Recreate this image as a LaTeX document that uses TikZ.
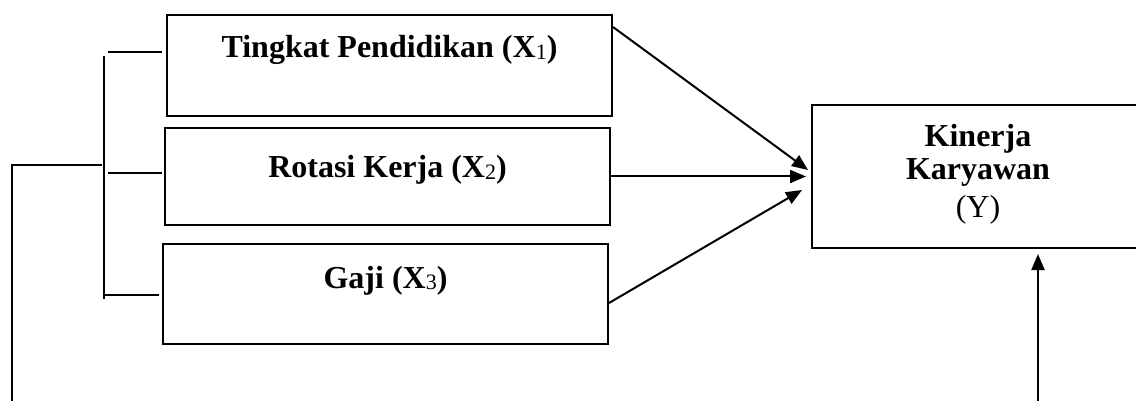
\documentclass[tikz,border=0pt]{standalone}
\usepackage{fontspec}
\setmainfont{Liberation Serif}
\usetikzlibrary{arrows.meta}
\newcommand{\subdig}[1]{\raisebox{-1.5pt}{\fontsize{22}{22}\selectfont\mdseries #1}}
\begin{document}
\begin{tikzpicture}[x=1pt,y=-1pt,
  box/.style={draw, line width=2pt, rectangle, inner sep=0pt, font=\fontsize{32}{33}\selectfont\bfseries},
  link/.style={line width=2pt},
  arr/.style={line width=2pt, -{Triangle[length=16pt,width=13pt]}}]
\useasboundingbox (0,0) rectangle (1136,401);
\clip (0,0) rectangle (1136,401);
\node[box, minimum width=445pt, text height=42.7pt, text depth=58.3pt] (b1) at (389.5,65.5) {Tingkat Pendidikan (X\subdig{1})};
\node[box, minimum width=445pt, text height=50pt, text depth=47pt] (b2) at (387.5,176.5) {Rotasi Kerja (X\subdig{2})};
\node[box, minimum width=445pt, text height=44pt, text depth=56pt] (b3) at (385.5,294) {Gaji (X\subdig{3})};
\node[box, minimum width=332pt, align=center, text height=113pt, text depth=30pt] (Y) at (978,176.5) {Kinerja\\Karyawan\\[5pt]{\mdseries (Y)}};
% bracket
\coordinate (v1) at (104,56);
\coordinate (v2) at (104,299);
\draw[link] (v1) -- (v2);
\coordinate (t1) at (108,52);
\coordinate (t2) at (108,173);
\coordinate (t3) at (104,295);
\draw[link, shorten >=4pt] (t1) -- (t1 -| b1.west);
\draw[link, shorten >=2pt] (t2) -- (t2 -| b2.west);
\draw[link, shorten >=3pt] (t3) -- (t3 -| b3.west);
\coordinate (L1) at (102,165);
\coordinate (L0) at (12,401);
\draw[link] (L1) -| (L0);
% arrows
\draw[arr] ([yshift=-13pt]b1.north east) -- ([xshift=-3pt,yshift=6.5pt]Y.west);
\draw[arr] (b2.east) -- ([xshift=-5pt]Y.west);
\draw[arr] ([yshift=-9pt]b3.east) -- ([xshift=-9pt,yshift=-13.5pt]Y.west);
\coordinate (bot) at (1038,401);
\draw[arr, shorten >=5pt] (bot) -- (bot |- Y.south);
\end{tikzpicture}
\end{document}
